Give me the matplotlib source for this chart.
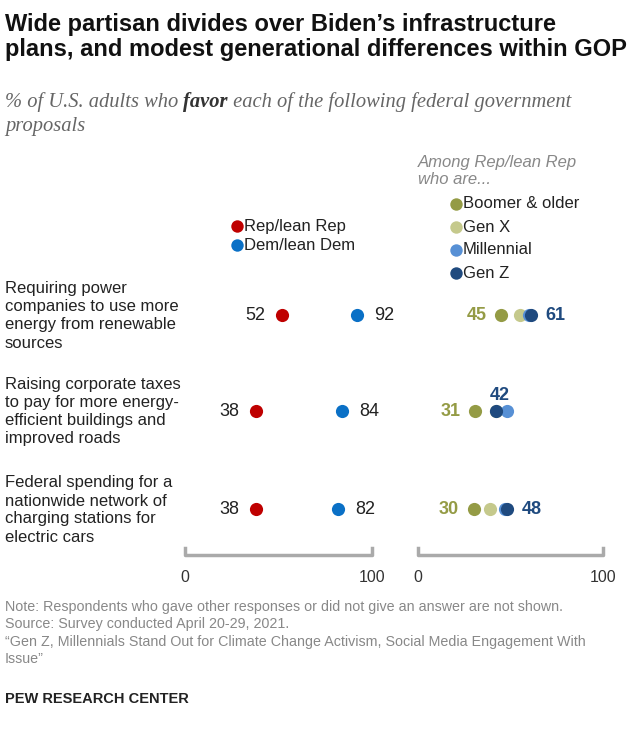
import matplotlib.pyplot as plt

proposals = [
    "Requiring power\ncompanies to use more\nenergy from renewable\nsources",
    "Raising corporate taxes\nto pay for more energy-\nefficient buildings and\nimproved roads",
    "Federal spending for a\nnationwide network of\ncharging stations for\nelectric cars",
]
rep = [52, 38, 38]
dem = [92, 84, 82]
boomer = [45, 31, 30]
genx = [55, 42, 39]
millennial = [60, 48, 47]
genz = [61, 42, 48]

RED, BLUE = "#bf0000", "#0a70c6"
C_BOOM, C_GENX, C_MIL, C_GENZ = "#949b45", "#c5c98c", "#5790d5", "#1f4a7f"

W, H = 640, 739
plt.rcParams["font.family"] = ["Liberation Sans", "DejaVu Sans"]
fig = plt.figure(figsize=(W / 100, H / 100), dpi=100)

# full-figure overlay in pixel coordinates for text and legend marks
ov = fig.add_axes([0, 0, 1, 1])
ov.set_xlim(0, W)
ov.set_ylim(H, 0)
ov.axis("off")

def px(x0, y0, x1, y1):
    return [x0 / W, 1 - y1 / H, (x1 - x0) / W, (y1 - y0) / H]

ypos = [315, 411, 509]
ax1 = fig.add_axes(px(185, 270, 372, 560))
ax2 = fig.add_axes(px(418, 270, 603, 560))
for ax in (ax1, ax2):
    ax.set_xlim(0, 100)
    ax.set_ylim(560, 270)
    ax.axis("off")
    ax.plot([0, 0, 100, 100], [548, 555, 555, 548], color="#aaaaaa", lw=2.5, clip_on=False)
    ax.text(0, 570, "0", ha="center", va="top", fontsize=11.5, color="#333333")
    ax.text(100, 570, "100", ha="center", va="top", fontsize=11.5, color="#333333")

num = dict(va="center", fontsize=13)
for i, y in enumerate(ypos):
    ax1.scatter(rep[i], y, s=90, color=RED, zorder=3, lw=0)
    ax1.scatter(dem[i], y, s=90, color=BLUE, zorder=3, lw=0)
    ax1.text(rep[i] - 9, y, str(rep[i]), ha="right", color="#222222", **num)
    ax1.text(dem[i] + 9, y, str(dem[i]), ha="left", color="#222222", **num)
    for vals, c in ((boomer, C_BOOM), (genx, C_GENX), (millennial, C_MIL), (genz, C_GENZ)):
        ax2.scatter(vals[i], y, s=90, color=c, zorder=3, lw=0)
    ax2.text(boomer[i] - 8, y, str(boomer[i]), ha="right", color=C_BOOM, fontweight="bold", **num)
    if genz[i] >= millennial[i]:
        ax2.text(genz[i] + 8, y, str(genz[i]), ha="left", color=C_GENZ, fontweight="bold", **num)
    else:
        ax2.text(genz[i] + 2, y - 15, str(genz[i]), ha="center", color=C_GENZ, fontweight="bold", **num)
    ov.text(5, y + 1, proposals[i], ha="left", va="center", fontsize=12,
            color="#222222", linespacing=1.25)

ov.text(5, 37, "Wide partisan divides over Biden’s infrastructure\nplans, and modest generational differences within GOP",
        ha="left", va="center", fontsize=17, fontweight="bold", color="#111111", linespacing=1.15)

sub = dict(family="Liberation Serif", style="italic", fontsize=14.8, color="#666666", va="center")
fig.canvas.draw()
r = fig.canvas.get_renderer()
t1 = ov.text(5, 102, "% of U.S. adults who ", ha="left", **sub)
x = t1.get_window_extent(r).x1
t2 = fig.text(x / W, 1 - 102 / H, "favor", ha="left", fontweight="bold", **{**sub, "color": "#333333"})
x = t2.get_window_extent(r).x1
fig.text(x / W, 1 - 102 / H, " each of the following federal government", ha="left", **sub)
ov.text(5, 127, "proposals", ha="left", **sub)

# legends
for label, c, y in (("Rep/lean Rep", RED, 226), ("Dem/lean Dem", BLUE, 245)):
    ov.scatter(237, y, s=80, color=c, lw=0)
    ov.text(244, y, label, ha="left", va="center", fontsize=12, color="#222222")
ov.text(418, 171, "Among Rep/lean Rep\nwho are...", ha="left", va="center",
        fontsize=12, style="italic", color="#888888", linespacing=1.2)
for label, c, y in (("Boomer & older", C_BOOM, 204), ("Gen X", C_GENX, 227),
                    ("Millennial", C_MIL, 250), ("Gen Z", C_GENZ, 273)):
    ov.scatter(456, y, s=80, color=c, lw=0)
    ov.text(463, y, label, ha="left", va="center", fontsize=12, color="#222222")

note = ("Note: Respondents who gave other responses or did not give an answer are not shown.\n"
        "Source: Survey conducted April 20-29, 2021.\n"
        "“Gen Z, Millennials Stand Out for Climate Change Activism, Social Media Engagement With\n"
        "Issue”")
ov.text(5, 600, note, ha="left", va="top", fontsize=10.3, color="#888888", linespacing=1.3)
ov.text(5, 699, "PEW RESEARCH CENTER", ha="left", va="center", fontsize=10.5,
        fontweight="bold", color="#222222")

fig.savefig("out.png", dpi=100, facecolor="white")
